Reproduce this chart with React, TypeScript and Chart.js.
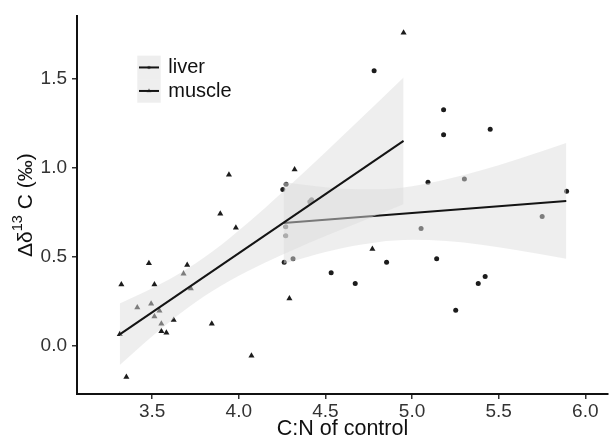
import React, { useEffect, useRef } from 'react';
import { Chart, registerables } from 'chart.js';

Chart.register(...registerables);

// ---- data ----
const seriesNames = ['liver', 'muscle'];

const liverX = [4.254, 4.273, 4.41, 4.42, 4.271, 4.271, 4.262, 4.313, 4.533, 4.672, 4.853, 5.092, 5.052, 5.142, 5.182, 5.182, 5.451, 5.302, 5.892, 5.751, 5.422, 5.382, 5.252, 4.781];
const liverY = [0.879, 0.908, 0.81, 0.82, 0.668, 0.618, 0.469, 0.489, 0.41, 0.349, 0.469, 0.919, 0.659, 0.489, 1.327, 1.187, 1.218, 0.938, 0.868, 0.727, 0.388, 0.349, 0.198, 1.547];

const muscleX = [3.313, 3.322, 3.351, 3.414, 3.481, 3.494, 3.513, 3.513, 3.542, 3.553, 3.553, 3.582, 3.624, 3.681, 3.702, 3.723, 3.844, 3.893, 3.943, 3.983, 4.073, 4.292, 4.322, 4.771, 4.951];
const muscleY = [0.063, 0.343, -0.177, 0.214, 0.463, 0.235, 0.343, 0.164, 0.196, 0.122, 0.081, 0.072, 0.144, 0.404, 0.454, 0.321, 0.122, 0.742, 0.962, 0.663, -0.057, 0.264, 0.991, 0.543, 1.761];

const liverFitX = [4.258, 5.89];
const liverFitY = [0.69, 0.814];
const muscleFitX = [3.313, 4.951];
const muscleFitY = [0.063, 1.152];

const liverBandX = [4.258, 4.4, 4.6, 4.8, 5.0, 5.2, 5.4, 5.6, 5.89];
const liverBandLower = [0.46, 0.5, 0.549, 0.582, 0.595, 0.588, 0.567, 0.538, 0.489];
const liverBandUpper = [0.92, 0.902, 0.883, 0.88, 0.897, 0.936, 0.987, 1.046, 1.14];

const muscleBandX = [3.313, 3.5, 3.7, 3.9, 4.1, 4.3, 4.5, 4.7, 4.951];
const muscleBandLower = [-0.11, 0.052, 0.209, 0.338, 0.442, 0.532, 0.616, 0.696, 0.795];
const muscleBandUpper = [0.236, 0.322, 0.431, 0.568, 0.73, 0.906, 1.088, 1.274, 1.509];

const xTicks = [3.5, 4.0, 4.5, 5.0, 5.5, 6.0];
const yTicks = [0.0, 0.5, 1.0, 1.5];

const xTitle = 'C:N of control';
const yTitleParts = ['Δδ', '13', ' C (‰)'];

// ---- styles ----
const FONT = '"Liberation Sans", Arial, Helvetica, sans-serif';
const POINT = '#1c1c1c';
const LINE = '#141414';
const BAND = 'rgba(222,222,222,0.5)';

const zip = (xs: number[], ys: number[]) => xs.map((x, i) => ({ x, y: ys[i] }));

const overlayPlugin = {
  id: 'overlay',
  afterDraw(chart: any) {
    const ctx: CanvasRenderingContext2D = chart.ctx;
    const { top, bottom } = chart.chartArea;

    // y-axis title with superscript
    ctx.save();
    const big = `21px ${FONT}`;
    const small = `14.5px ${FONT}`;
    ctx.font = big;
    const w0 = ctx.measureText(yTitleParts[0]).width;
    const w2 = ctx.measureText(yTitleParts[2]).width;
    ctx.font = small;
    const w1 = ctx.measureText(yTitleParts[1]).width;
    const total = w0 + w1 + w2;
    ctx.translate(31.5, (top + bottom) / 2);
    ctx.rotate(-Math.PI / 2);
    ctx.fillStyle = '#111';
    ctx.textBaseline = 'alphabetic';
    ctx.textAlign = 'left';
    let x = -total / 2;
    ctx.font = big;
    ctx.fillText(yTitleParts[0], x, 0);
    x += w0;
    ctx.font = small;
    ctx.fillText(yTitleParts[1], x, -9.5);
    x += w1;
    ctx.font = big;
    ctx.fillText(yTitleParts[2], x, 0);
    ctx.restore();

    // legend
    const keyX = 137.3;
    const keyW = 23.4;
    const keyH = 23.5;
    const keyTop = 55.7;
    seriesNames.forEach((name, i) => {
      const ky = keyTop + i * keyH;
      const cy = ky + keyH / 2;
      const cx = keyX + keyW / 2;
      ctx.save();
      ctx.fillStyle = POINT;
      ctx.beginPath();
      if (i === 0) {
        ctx.arc(cx, cy, 1.8, 0, Math.PI * 2);
      } else {
        const r = 2.8;
        ctx.moveTo(cx, cy - r);
        ctx.lineTo(cx + r * 0.866, cy + r * 0.5);
        ctx.lineTo(cx - r * 0.866, cy + r * 0.5);
        ctx.closePath();
      }
      ctx.fill();
      ctx.fillStyle = BAND;
      ctx.fillRect(keyX, ky, keyW, keyH);
      ctx.strokeStyle = LINE;
      ctx.lineWidth = 2;
      ctx.beginPath();
      ctx.moveTo(keyX + 1.7, cy);
      ctx.lineTo(keyX + keyW - 1.7, cy);
      ctx.stroke();
      ctx.fillStyle = '#111';
      ctx.font = `20px ${FONT}`;
      ctx.textBaseline = 'middle';
      ctx.textAlign = 'left';
      ctx.fillText(name, 168.3, cy + 0.5);
      ctx.restore();
    });
  },
};

export default function App() {
  const ref = useRef<HTMLCanvasElement>(null);

  useEffect(() => {
    const canvas = ref.current;
    if (!canvas) return;

    const fitLine = (xs: number[], ys: number[]) => ({
      type: 'line' as const,
      data: zip(xs, ys),
      borderColor: LINE,
      borderWidth: 2,
      pointRadius: 0,
      fill: false,
      showLine: true,
    });
    const bandEdge = (xs: number[], ys: number[], fill: any) => ({
      type: 'line' as const,
      data: zip(xs, ys),
      borderColor: 'rgba(0,0,0,0)',
      borderWidth: 0,
      pointRadius: 0,
      backgroundColor: BAND,
      fill,
      showLine: true,
      cubicInterpolationMode: 'monotone' as const,
    });
    const pts = (xs: number[], ys: number[], style: string, r: number) => ({
      type: 'line' as const,
      data: zip(xs, ys),
      showLine: false,
      pointStyle: style,
      pointRadius: r,
      pointBackgroundColor: POINT,
      pointBorderWidth: 0,
      pointBorderColor: POINT,
      fill: false,
    });

    const chart = new Chart(canvas, {
      type: 'line',
      data: {
        datasets: [
          // index 0 drawn on top, last index drawn first
          fitLine(muscleFitX, muscleFitY),
          bandEdge(muscleBandX, muscleBandLower, false),
          bandEdge(muscleBandX, muscleBandUpper, '-1'),
          fitLine(liverFitX, liverFitY),
          bandEdge(liverBandX, liverBandLower, false),
          bandEdge(liverBandX, liverBandUpper, '-1'),
          pts(liverX, liverY, 'circle', 2.5),
          pts(muscleX, muscleY, 'triangle', 3.5),
        ] as any,
      },
      options: {
        responsive: false,
        animation: false,
        events: [],
        layout: { padding: { top: 10, left: 0, right: 0, bottom: 0 } },
        plugins: {
          legend: { display: false },
          tooltip: { enabled: false },
        },
        scales: {
          x: {
            type: 'linear',
            min: 3.066,
            max: 6.131,
            afterBuildTicks: (s: any) => {
              s.ticks = xTicks.map((v) => ({ value: v }));
            },
            afterFit: (s: any) => {
              s.height = 48;
            },
            ticks: {
              callback: (v: any) => Number(v).toFixed(1),
              font: { family: FONT, size: 19 },
              color: '#333',
              padding: 1,
              maxRotation: 0,
              autoSkip: false,
            },
            grid: {
              drawOnChartArea: false,
              drawTicks: true,
              tickLength: 5,
              color: '#333',
              lineWidth: 1.5,
            },
            border: { display: true, color: '#111', width: 2 },
            title: {
              display: true,
              text: xTitle,
              font: { family: FONT, size: 21.5 },
              color: '#111',
              padding: { top: 0, bottom: 0 },
            },
          },
          y: {
            type: 'linear',
            min: -0.273,
            max: 1.853,
            afterBuildTicks: (s: any) => {
              s.ticks = yTicks.map((v) => ({ value: v }));
            },
            afterFit: (s: any) => {
              s.width = 77;
            },
            ticks: {
              callback: (v: any) => Number(v).toFixed(1),
              font: { family: FONT, size: 19 },
              color: '#333',
              padding: 5,
              autoSkip: false,
            },
            grid: {
              drawOnChartArea: false,
              drawTicks: true,
              tickLength: 5,
              color: '#333',
              lineWidth: 1.5,
            },
            border: { display: true, color: '#111', width: 2 },
          },
        },
      } as any,
      plugins: [overlayPlugin],
    });

    return () => chart.destroy();
  }, []);

  return (
    <div style={{ position: 'absolute', left: 0, top: 0, width: 612, height: 442, background: '#fff' }}>
      <canvas ref={ref} width={612} height={442} style={{ display: 'block', width: 612, height: 442 }} />
    </div>
  );
}
